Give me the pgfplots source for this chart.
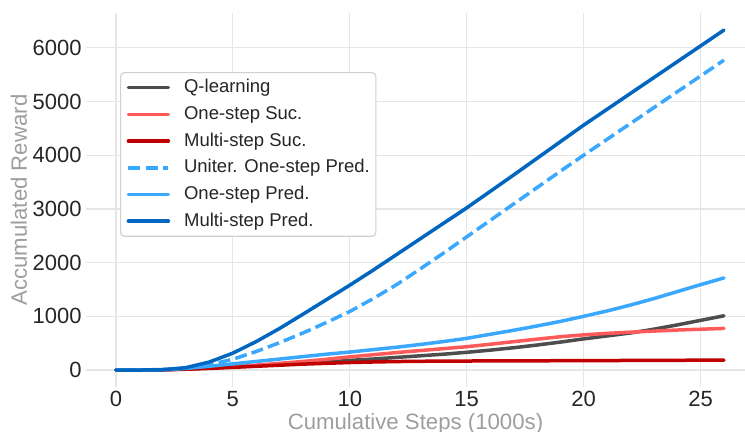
\documentclass[border=0pt]{standalone}
\usepackage{pgfplots}
\pgfplotsset{compat=1.18}
\usepackage{fontspec}
\setmainfont{Liberation Sans}
\definecolor{qgray}{HTML}{4D4D4D}
\definecolor{osred}{HTML}{FF5A5A}
\definecolor{msred}{HTML}{C00000}
\definecolor{lblue}{HTML}{3AA8FF}
\definecolor{dblue}{HTML}{0066C0}
\definecolor{tickc}{HTML}{262626}
\definecolor{labc}{HTML}{9E9E9E}
\definecolor{gridc}{HTML}{E6E6E6}
\definecolor{legc}{HTML}{D0D0D0}
\begin{document}
\begin{tikzpicture}
\begin{axis}[
  name=ax,
  scale only axis,
  width=329.5pt, height=187pt,
  xmin=-1.28, xmax=26.9,
  ymin=-316, ymax=6648,
  xtick={0,5,10,15,20,25},
  ytick={0,1000,2000,3000,4000,5000,6000},
  /pgf/number format/assume math mode=true,
  /pgf/number format/1000 sep={},
  grid=major,
  major grid style={color=gridc, line width=0.6pt},
  axis line style={draw=none},
  tick style={draw=none},
  major tick length=0pt,
  ticklabel style={font=\fontsize{11}{13}\selectfont, text=tickc},
  yticklabel style={inner sep=0pt, anchor=east, xshift=-2pt},
  xticklabel style={inner sep=0pt, anchor=base, yshift=-9.5pt},
  xlabel={Cumulative Steps (1000s)},
  ylabel={Accumulated Reward},
  every axis x label/.style={at={(rel axis cs:0.5,0)}, anchor=base, inner sep=0pt, yshift=-21pt, font=\fontsize{11.1}{13}\selectfont, text=labc},
  every axis y label/.style={at={(rel axis cs:0,0.5)}, rotate=90, anchor=base, inner sep=0pt, yshift=29.5pt, font=\fontsize{11.1}{13}\selectfont, text=labc},
  legend style={at={(rel axis cs:0.0516,0.8422)}, anchor=north west,
    draw=legc, rounded corners=2pt, fill=white, line width=0.6pt,
    font=\fontsize{9.25}{11}\selectfont, text=tickc,
    inner xsep=3pt, inner ysep=3.5pt,
    nodes={inner sep=0pt, text height=6.6pt, text depth=1.5pt},
    row sep=5.25pt,
    /tikz/every odd column/.append style={column sep=7pt}},
  legend cell align=left,
  legend image code/.code={\draw[#1] (0pt,0pt) -- (20pt,0pt);},
  every axis plot/.append style={line width=1.75pt, line cap=round, line join=round},
]
\addplot[qgray] coordinates {(0,0)(1,0)(2,5)(3,20)(4,40)(5,60)(6,80)(7,100)(8,125)(9,150)(10,180)(11,205)(12,235)(13,265)(14,295)(15,330)(16,370)(17,415)(18,465)(19,520)(20,580)(21,635)(22,690)(23,760)(24,840)(25,925)(26,1010)};
\addlegendentry{Q-learning}
\addplot[osred] coordinates {(0,0)(1,0)(2,5)(3,20)(4,40)(5,60)(6,90)(7,125)(8,160)(9,200)(10,245)(11,285)(12,325)(13,362)(14,398)(15,434)(16,480)(17,528)(18,575)(19,620)(20,655)(21,683)(22,705)(23,725)(24,745)(25,760)(26,775)};
\addlegendentry{One-step Suc.}
\addplot[msred] coordinates {(0,0)(1,0)(2,5)(3,15)(4,30)(5,50)(6,70)(7,90)(8,110)(9,125)(10,140)(11,150)(12,158)(13,163)(14,166)(15,168)(20,175)(26,185)};
\addlegendentry{Multi-step Suc.}
\addplot[lblue, dash pattern=on 6pt off 2.6pt, line cap=butt] coordinates {(0,0)(1,0)(2,5)(3,35)(4,100)(5,200)(6,345)(7,510)(8,690)(9,885)(10,1090)(11,1330)(12,1590)(13,1880)(14,2175)(15,2480)(16,2785)(17,3090)(18,3395)(19,3700)(20,4000)(21,4295)(22,4590)(23,4885)(24,5180)(25,5475)(26,5770)};
\addlegendentry{Uniter. One-step Pred.}
\addplot[lblue] coordinates {(0,0)(1,0)(2,10)(3,30)(4,70)(5,115)(6,160)(7,205)(8,250)(9,295)(10,335)(11,380)(12,425)(13,475)(14,530)(15,590)(16,665)(17,740)(18,820)(19,905)(20,1000)(21,1100)(22,1210)(23,1330)(24,1460)(25,1590)(26,1715)};
\addlegendentry{One-step Pred.}
\addplot[dblue] coordinates {(0,0)(1,0)(2,5)(3,45)(4,150)(5,315)(6,530)(7,775)(8,1040)(9,1310)(10,1580)(11,1860)(12,2150)(13,2440)(14,2730)(15,3020)(16,3325)(17,3630)(18,3940)(19,4250)(20,4560)(21,4855)(22,5150)(23,5445)(24,5740)(25,6035)(26,6330)};
\addlegendentry{Multi-step Pred.}
\end{axis}
\pgfresetboundingbox
\path ([xshift=-43pt,yshift=-22pt]ax.south west) rectangle ([yshift=6.5pt]ax.north east);
\end{tikzpicture}
\end{document}
